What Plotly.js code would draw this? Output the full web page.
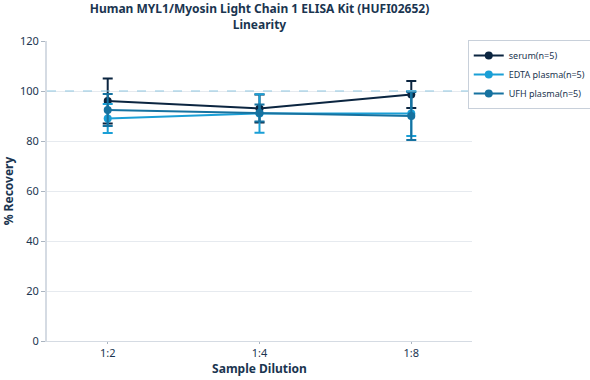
<!DOCTYPE html>
<html><head><meta charset="utf-8">
<script src="https://cdn.plot.ly/plotly-3.0.1.min.js"></script>
<style>body{margin:0}#c{width:590px;height:380px}</style>
</head><body><div id="c"></div>
<script>
const dilutions = ["1:2", "1:4", "1:8"];
const seriesNames = ["serum(n=5)", "EDTA plasma(n=5)", "UFH plasma(n=5)"];
const serum = [96, 93, 98.6];
const serumErr = [9, 5.6, 5.4];
const edta = [89, 91, 91];
const edtaErr = [5.8, 7.7, 9];
const ufh = [92.4, 91.2, 90];
const ufhErr = [6.4, 3.4, 9.6];
const colors = ["#0b2540", "#1a9fd6", "#1672a0"];

const vals = [serum, edta, ufh];
const errs = [serumErr, edtaErr, ufhErr];
const traces = vals.map((v, i) => ({
  type: "scatter", mode: "lines+markers",
  x: dilutions, y: v, name: seriesNames[i],
  line: {color: colors[i], width: 2},
  marker: {color: colors[i], size: 8},
  error_y: {type: "data", array: errs[i], visible: true, color: colors[i], thickness: 2, width: 5}
}));

const layout = {
  width: 590, height: 380,
  margin: {l: 47, r: 118, t: 41, b: 39, autoexpand: false},
  paper_bgcolor: "#fff", plot_bgcolor: "#fff",
  font: {family: "Noto Sans, Open Sans, sans-serif", color: "#1a3550", size: 11},
  title: {text: "<b>Human MYL1/Myosin Light Chain 1 ELISA Kit (HUFI02652)<br>Linearity</b>",
    xref: "paper", yref: "container", x: 0.5, xanchor: "center", y: 0.965, yanchor: "top",
    font: {size: 12, color: "#1a3550"}},
  xaxis: {type: "category", range: [-0.4, 2.4], showgrid: false,
    showline: true, linecolor: "#d5dbe3", linewidth: 1, ticks: "outside", ticklen: 2, tickcolor: "#aab4c0",
    title: {text: "<b>Sample Dilution</b>", font: {size: 12}, standoff: 2}},
  yaxis: {range: [0, 120], dtick: 20, showgrid: true, gridcolor: "#e6eaef", zeroline: false,
    showline: true, linecolor: "#d5dbe3", linewidth: 2, ticks: "outside", ticklen: 4, tickcolor: "#aab4c0",
    title: {text: "<b>% Recovery</b>", font: {size: 12}, standoff: 5}},
  shapes: [{type: "line", xref: "paper", x0: 0, x1: 1, yref: "y", y0: 100, y1: 100,
    line: {color: "#8fc6e0", width: 1, dash: "dash"}}],
  legend: {x: 0.99, xanchor: "left", y: 1.003, yanchor: "top", bordercolor: "#c8d0da", borderwidth: 1,
    font: {size: 9}, bgcolor: "#fff", tracegroupgap: 0, itemwidth: 30},
  showlegend: true
};
Plotly.newPlot("c", traces, layout, {displayModeBar: false});
</script></body></html>
